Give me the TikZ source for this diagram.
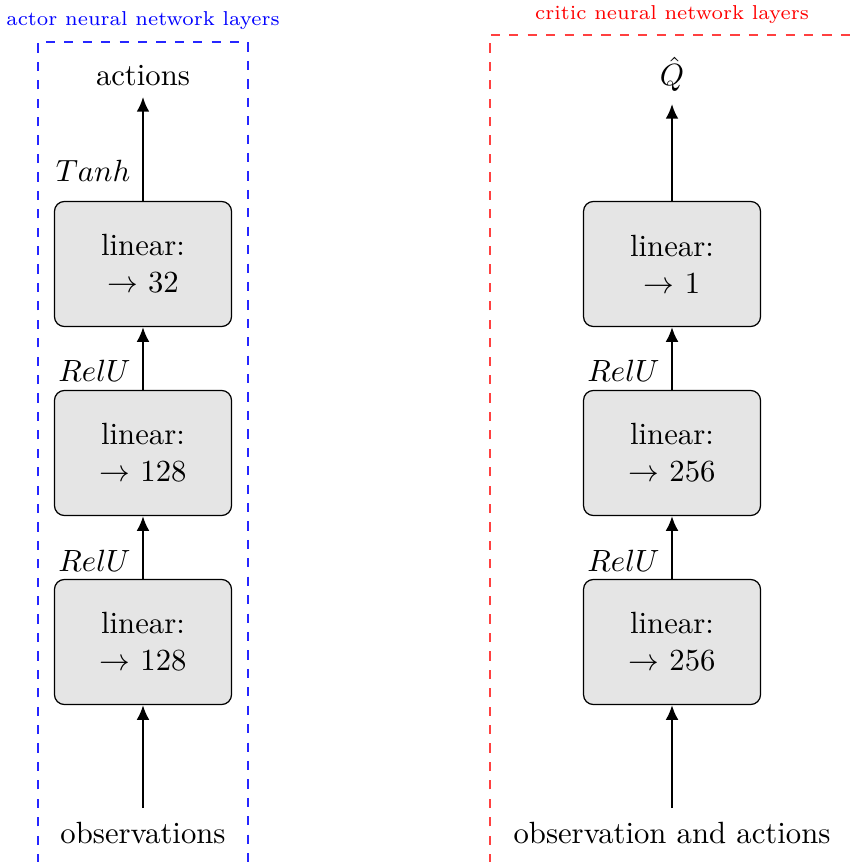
\documentclass[tikz,border=0pt]{standalone}
\usetikzlibrary{arrows.meta}
\begin{document}
\begin{tikzpicture}[x=0.3257pt,y=-0.3257pt,
  layer/.style={draw=black,line width=0.4pt,fill=black!10,rounded corners=3.2pt,
    minimum width=177*0.3257pt,minimum height=125*0.3257pt,align=center,inner sep=0pt},
  flow/.style={line width=0.7pt,-{Latex[length=4.8pt,width=4.2pt]}},
  act/.style={anchor=base east,inner sep=0pt},
  io/.style={inner sep=0pt},
  title/.style={anchor=base,inner sep=0pt,font=\fontsize{6.55}{8}\selectfont}]
\useasboundingbox (0,0) rectangle (851,862);
\begin{scope}
\clip (0,0) rectangle (851,862);
\draw[blue!85,dashed,line width=0.4pt] (38,900) -- (38,42) -- (248,42) -- (248,900);
\draw[red!75,dashed,line width=0.4pt] (490,900) -- (490,35) -- (900,35);
\end{scope}
\node[blue,title] (at) at (143,26) {actor neural network layers};
\node[red,title] (ct) at (672,20) {critic neural network layers};
% actor
\node[layer] (a1) at (143,642) {linear:\\ $\to$ 128};
\node[layer] (a2) at (143,453) {linear:\\ $\to$ 128};
\node[layer] (a3) at (143,264) {linear:\\ $\to$ 32};
\node[io,anchor=base] (aout) at (143,86) {actions};
\node[io,anchor=base] (ain) at (143,843) {observations};
\coordinate (aoutb) at (143,97);
\coordinate (ainb) at (143,808);
\draw[flow] (ainb) -- (a1.south);
\draw[flow] (a1.north) -- (a2.south);
\draw[flow] (a2.north) -- (a3.south);
\draw[flow] (a3.north) -- (aoutb);
\node[act] (r1) at (131,571) {$RelU$};
\node[act] (r2) at (131,382) {$RelU$};
\node[act] (t1) at (131,182) {$Tanh$};
% critic
\node[layer] (c1) at (672,642) {linear:\\ $\to$ 256};
\node[layer] (c2) at (672,453) {linear:\\ $\to$ 256};
\node[layer] (c3) at (672,264) {linear:\\ $\to$ 1};
\node[io,anchor=base] (cout) at (672,86) {$\hat{Q}$};
\node[io,anchor=base] (cin) at (672,843) {observation and actions};
\coordinate (coutb) at (672,104);
\coordinate (cinb) at (672,808);
\draw[flow] (cinb) -- (c1.south);
\draw[flow] (c1.north) -- (c2.south);
\draw[flow] (c2.north) -- (c3.south);
\draw[flow] (c3.north) -- (coutb);
\node[act] (r3) at (660,571) {$RelU$};
\node[act] (r4) at (660,382) {$RelU$};
\end{tikzpicture}
\end{document}
